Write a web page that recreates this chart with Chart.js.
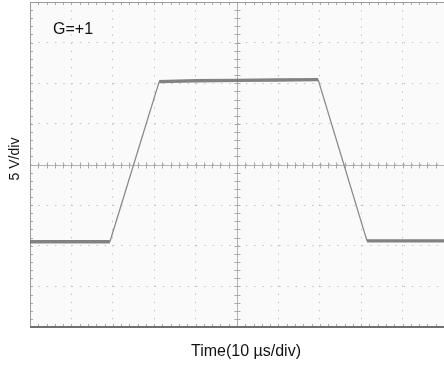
<!DOCTYPE html>
<html>
<head>
<meta charset="utf-8">
<script src="https://cdn.jsdelivr.net/npm/chart.js@4.4.1/dist/chart.umd.min.js"></script>
<style>
  html, body { margin: 0; padding: 0; background: #fff; }
  #wrap { width: 444px; height: 365px; position: relative; }
</style>
</head>
<body>
<div id="wrap"><canvas id="scope"></canvas></div>
<script>
// eixo do tempo em µs (10 µs/div) e saída em volts (5 V/div)
const timeUs  = [-50, -40, -30.7, -18.8, -10, 0, 10, 19.6, 31.4, 40, 50];
const outputV = [-9.5, -9.5, -9.5, 10.2, 10.3, 10.35, 10.4, 10.45, -9.4, -9.4, -9.4];

// divisões da tela do osciloscópio
const xTicks = [-50, -40, -30, -20, -10, 0, 10, 20, 30, 40, 50];
const yTicks = [-20, -15, -10, -5, 0, 5, 10, 15, 20];
const minorPerDiv = 5;

// textos
const gainText = "G=+1";
const xTitle = "Time(10 µs/div)";
const yTitle = "5 V/div";

const FONT = "'Liberation Sans', Arial, sans-serif";

// ____________________________________________________________________________

// desenha fundo, cruz central, moldura e os textos
const scopeDecor = {
    id: 'scopeDecor',
    beforeDraw(chart) {
        const { ctx, chartArea: a } = chart;
        ctx.save();
        ctx.fillStyle = '#fafafa';
        ctx.fillRect(a.left, a.top, a.right - a.left, a.bottom - a.top);
        ctx.restore();
    },
    beforeDatasetsDraw(chart) {
        const { ctx, chartArea: a, scales: { x, y } } = chart;
        const x0 = Math.round(x.getPixelForValue(0)) + 0.5;
        const y0 = Math.round(y.getPixelForValue(0)) + 0.5;
        ctx.save();

        // cruz central
        ctx.strokeStyle = '#b4b4b4';
        ctx.lineWidth = 1;
        ctx.beginPath();
        ctx.moveTo(a.left, y0); ctx.lineTo(a.right, y0);
        ctx.moveTo(x0, a.top); ctx.lineTo(x0, a.bottom);
        ctx.stroke();

        // marcas menores
        const xStep = (xTicks[1] - xTicks[0]) / minorPerDiv;
        const yStep = (yTicks[1] - yTicks[0]) / minorPerDiv;
        ctx.strokeStyle = '#a8a8a8';
        ctx.beginPath();
        for (let v = xTicks[0]; v <= xTicks[xTicks.length - 1] + 1e-6; v += xStep) {
            const px = Math.round(x.getPixelForValue(v)) + 0.5;
            ctx.moveTo(px, y0 - 3); ctx.lineTo(px, y0 + 3);
            ctx.moveTo(px, a.top); ctx.lineTo(px, a.top + 3);
            ctx.moveTo(px, a.bottom); ctx.lineTo(px, a.bottom - 3);
        }
        for (let v = yTicks[0]; v <= yTicks[yTicks.length - 1] + 1e-6; v += yStep) {
            const py = Math.round(y.getPixelForValue(v)) + 0.5;
            ctx.moveTo(x0 - 3, py); ctx.lineTo(x0 + 3, py);
            ctx.moveTo(a.left, py); ctx.lineTo(a.left + 3, py);
        }
        ctx.stroke();

        // moldura
        ctx.strokeStyle = '#9a9a9a';
        ctx.beginPath();
        ctx.moveTo(a.left + 0.5, a.top); ctx.lineTo(a.left + 0.5, a.bottom);
        ctx.moveTo(a.left, a.top + 0.5); ctx.lineTo(a.right, a.top + 0.5);
        ctx.stroke();
        ctx.strokeStyle = '#707070';
        ctx.lineWidth = 2;
        ctx.beginPath();
        ctx.moveTo(a.left, a.bottom); ctx.lineTo(a.right, a.bottom);
        ctx.stroke();
        ctx.restore();
    },
    afterDraw(chart) {
        const { ctx, chartArea: a } = chart;
        ctx.save();
        ctx.fillStyle = '#111';
        ctx.textBaseline = 'alphabetic';

        ctx.font = `16px ${FONT}`;
        ctx.textAlign = 'left';
        ctx.fillText(gainText, a.left + 23, a.top + 32);

        ctx.textAlign = 'center';
        ctx.fillText(xTitle, 246, 356);

        ctx.font = `14px ${FONT}`;
        ctx.translate(15, 159);
        ctx.rotate(-Math.PI / 2);
        ctx.textBaseline = 'middle';
        ctx.fillText(yTitle, 0, 0);
        ctx.restore();
    }
};

// ____________________________________________________________________________

const scopeChart = new Chart(document.getElementById('scope').getContext('2d'), {
    type: 'line',
    data: {
        datasets: [{
            data: timeUs.map((t, i) => ({ x: t, y: outputV[i] })),
            borderColor: 'rgba(95, 95, 95, 0.85)',
            borderWidth: 3,
            pointRadius: 0,
            tension: 0,
            segment: {
                // rampas finas, patamares grossos (ruído)
                borderWidth: c => Math.abs(c.p1.parsed.y - c.p0.parsed.y) > 5 ? 1.3 : 3.4,
                borderColor: c => Math.abs(c.p1.parsed.y - c.p0.parsed.y) > 5 ? '#8a8a8a' : 'rgba(100, 100, 100, 0.8)',
            },
        }],
    },
    options: {
        responsive: true,
        maintainAspectRatio: false,
        animation: false,
        layout: { padding: { left: 30, top: 2, right: 0, bottom: 38 } },
        plugins: { legend: { display: false }, tooltip: { enabled: false } },
        scales: {
            x: {
                type: 'linear',
                min: xTicks[0],
                max: xTicks[xTicks.length - 1],
                afterBuildTicks: s => { s.ticks = xTicks.map(v => ({ value: v })); },
                ticks: { display: false },
                grid: { color: '#c4c4c4', lineWidth: 1, drawTicks: false },
                border: { display: false, dash: [1.5, 6.6] },
            },
            y: {
                type: 'linear',
                min: yTicks[0],
                max: yTicks[yTicks.length - 1],
                afterBuildTicks: s => { s.ticks = yTicks.map(v => ({ value: v })); },
                ticks: { display: false },
                grid: { color: '#c4c4c4', lineWidth: 1, drawTicks: false },
                border: { display: false, dash: [1.5, 6.8] },
            },
        },
    },
    plugins: [scopeDecor],
});
</script>
</body>
</html>
